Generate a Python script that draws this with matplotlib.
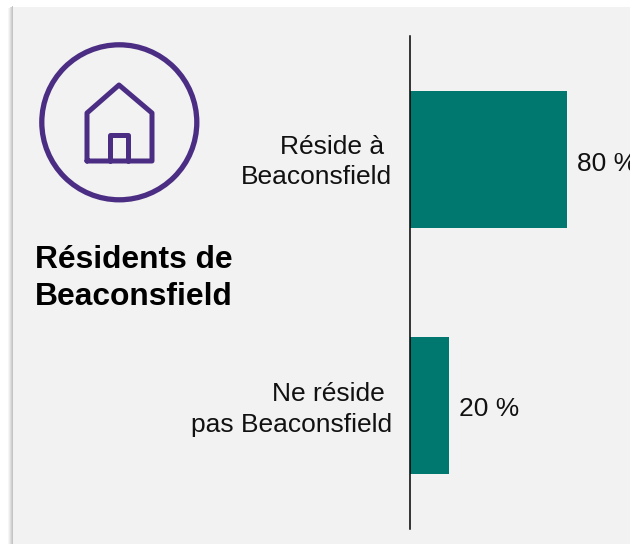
import matplotlib
matplotlib.use('Agg')
import matplotlib.pyplot as plt
from matplotlib.patches import Circle, Rectangle
from matplotlib.transforms import ScaledTranslation

plt.rcParams['font.family'] = ['Liberation Sans', 'DejaVu Sans']

# data
categories = ['Réside à \nBeaconsfield', 'Ne réside \npas Beaconsfield']
values = [80, 20]
value_labels = ['80 %', '20 %']
title = 'Résidents de\nBeaconsfield'

teal = '#00786F'
purple = '#4B2E83'
panel = '#F2F2F2'
ink = '#111111'
W, H = 630, 544

fig = plt.figure(figsize=(W / 100, H / 100), dpi=100)
fig.patch.set_facecolor('white')

# background layer in pixel coordinates (y down)
bg = fig.add_axes([0, 0, 1, 1])
bg.set_xlim(0, W)
bg.set_ylim(H, 0)
bg.axis('off')

# soft shadow on the left of the panel
for i, c in enumerate(['#F6F6F6', '#ECECEC', '#DFDFDF', '#D1D1D1', '#C4C4C4']):
    bg.add_patch(Rectangle((8 + i, 6 + (4 - i) * 0.5), 1, H, fc=c, ec='none'))
bg.add_patch(Rectangle((13, 7), W - 13, H - 7, fc=panel, ec='none'))

# round icon with house
bg.add_patch(Circle((119.3, 122.3), 77.5, fc='none', ec=purple, lw=3.8))
bg.plot([87, 87, 119, 152, 152, 87], [161, 113, 85, 113, 161, 161], color=purple,
        lw=3.6, solid_joinstyle='round', solid_capstyle='round')
bg.plot([110, 110, 128, 128], [161, 135, 135, 161], color=purple,
        lw=3.6, solid_joinstyle='round', solid_capstyle='round')

bg.text(35, 278.5, title, fontsize=22.9, fontweight='bold', color='black',
        ha='left', va='center', linespacing=1.27)

# bar chart, axes box runs from the axis line to the right edge
ax = fig.add_axes([410 / W, 1 - 529 / H, 220 / W, 493 / H])
ax.patch.set_alpha(0)
ax.barh(range(len(values)), values, height=0.556, color=teal)
ax.set_xlim(0, 112.3)
ax.set_ylim(1.5, -0.5)
for s in ['top', 'right', 'bottom']:
    ax.spines[s].set_visible(False)
ax.spines['left'].set_linewidth(1.1)
ax.spines['left'].set_color('black')
ax.set_xticks([])
ax.set_yticks(range(len(categories)))
ax.set_yticklabels(categories, fontsize=19, color=ink, ha='right', linespacing=1.33)
ax.tick_params(axis='y', length=0, pad=13)
# nudge category labels up a little
for lab, up in zip(ax.get_yticklabels(), [3, 2]):
    lab.set_transform(lab.get_transform() + ScaledTranslation(0, up / 100, fig.dpi_scale_trans))
label_shift = [-3.5, -2]
for i, v in enumerate(values):
    ax.annotate(value_labels[i], (v, i), xytext=(7.2, label_shift[i]), textcoords='offset points',
                fontsize=19, color=ink, ha='left', va='center', annotation_clip=False)

fig.savefig('out.png', dpi=100)
